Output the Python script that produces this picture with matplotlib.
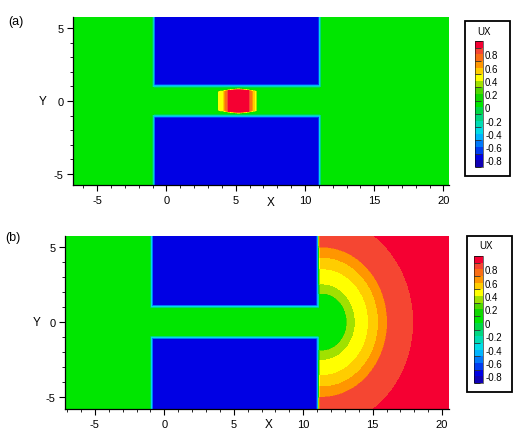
import numpy as np
import matplotlib.pyplot as plt
from matplotlib.colors import ListedColormap, BoundaryNorm
from matplotlib.patches import Rectangle
from matplotlib.ticker import MultipleLocator, FixedLocator

plt.rcParams['font.family'] = ['Liberation Sans', 'DejaVu Sans']
plt.rcParams['axes.unicode_minus'] = False

W, H = 517, 439

# contour levels / colour bands (Tecplot style)
levels = np.round(np.arange(-0.9, 1.001, 0.1), 2)
band_colors = ['#1000b4', '#0000e4', '#003cf0', '#0078fa', '#00b4ff', '#00dce6',
               '#00dcb4', '#00d782', '#00d746', '#00e600', '#10d800', '#50d800',
               '#a0e100', '#ffff00', '#ffcd00', '#ff9600', '#fa6e14', '#f54632',
               '#f50032']
cbar_ticks = [-0.8, -0.6, -0.4, -0.2, 0.0, 0.2, 0.4, 0.6, 0.8]
cbar_labels = ['-0.8', '-0.6', '-0.4', '-0.2', '0', '0.2', '0.4', '0.6', '0.8']

# geometry of the two blocks (walls) and the gap between them
wall_x = [-0.95, 11.1]
gap_half = 1.0
wall_val = -0.75
fluid_val = 0.05
edge_w = 0.25

# (a) jet inside the gap
blob_x = [3.7, 3.78, 4.1, 4.5, 5.9, 6.3, 6.45, 6.52]
blob_v = [0.05, 0.42, 0.5, 0.92, 0.92, 0.55, 0.45, 0.05]
blob_hx = [3.7, 5.2, 6.5]
blob_h = [0.7, 0.86, 0.72]

# (b) semicircular plume leaving the gap
ring_center = (11.35, 0.0)
ring_ky = 0.94
ring_r = [1.8, 2.4, 3.35, 4.07, 4.72, 6.6]
ring_val = [0.05, 0.35, 0.45, 0.55, 0.65, 0.85, 0.95]

xlim_a, ylim_a = (-6.75, 20.4), (-5.75, 5.75)
xlim_b, ylim_b = (-7.15, 20.5), (-5.8, 5.75)

cmap = ListedColormap(band_colors)

x = np.linspace(-7.5, 21, 1100)
y = np.linspace(-6.2, 6.2, 480)
X, Y = np.meshgrid(x, y)


def wall_weight(X, Y):
    dx = np.maximum(wall_x[0] - X, X - wall_x[1])
    dy = gap_half - np.abs(Y)
    outside = np.hypot(np.maximum(dx, 0), np.maximum(dy, 0))
    inside = np.minimum(np.maximum(dx, dy), 0)
    d = outside + inside
    return np.clip(0.5 - d / edge_w, 0, 1)


def field_a(X, Y):
    prof = np.interp(X, blob_x, blob_v, left=fluid_val, right=fluid_val)
    h = np.interp(X, blob_hx, blob_h)
    g = np.clip((h - np.abs(Y)) / 0.1, 0, 1)
    bg = fluid_val + (prof - fluid_val) * g
    w = wall_weight(X, Y)
    return bg * (1 - w) + wall_val * w


def field_b(X, Y):
    r = np.hypot(X - ring_center[0], ring_ky * (Y - ring_center[1]))
    kr, kv = [0.0], [ring_val[0]]
    for i, rr in enumerate(ring_r):
        kr += [rr - 0.03, rr + 0.03]
        kv += [ring_val[i], ring_val[i + 1]]
    kr.append(40.0)
    kv.append(ring_val[-1])
    rad = np.interp(r, kr, kv)
    bg = np.where(X > wall_x[1], rad, fluid_val)
    w = wall_weight(X, Y)
    return bg * (1 - w) + wall_val * w


def fig_rect(x0, y0, x1, y1):
    return [x0 / W, 1 - y1 / H, (x1 - x0) / W, (y1 - y0) / H]


fig = plt.figure(figsize=(W / 100, H / 100), dpi=100)

panels = [
    dict(Z=field_a(X, Y), rect=(73, 18, 449, 186), xlim=xlim_a, ylim=ylim_a,
         tag='(a)', tag_xy=(8, 22), ylab_x=43, xlab_y=203,
         frame=(465, 22, 510, 177), bar=(475, 42, 483, 168), ux=(484, 32)),
    dict(Z=field_b(X, Y), rect=(65, 237, 449, 410), xlim=xlim_b, ylim=ylim_b,
         tag='(b)', tag_xy=(5, 238), ylab_x=37, xlab_y=425,
         frame=(467, 237, 512, 393), bar=(474, 257, 483, 384), ux=(486, 246)),
]

for p in panels:
    norm = BoundaryNorm(levels, cmap.N)
    ax = fig.add_axes(fig_rect(*p['rect']))
    cs = ax.contourf(X, Y, p['Z'], levels=levels, cmap=cmap, norm=norm)
    ax.set_xlim(*p['xlim'])
    ax.set_ylim(*p['ylim'])
    ax.set_xticks([-5, 0, 5, 10, 15, 20])
    ax.set_yticks([-5, 0, 5])
    ax.xaxis.set_minor_locator(MultipleLocator(1))
    ax.yaxis.set_minor_locator(MultipleLocator(1))
    ax.tick_params(which='major', direction='out', length=4, width=0.8,
                   labelsize=8, pad=3)
    ax.tick_params(which='minor', direction='out', length=2.5, width=0.6)
    for s in ['top', 'right']:
        ax.spines[s].set_visible(False)
    for s in ['left', 'bottom']:
        ax.spines[s].set_linewidth(0.9)

    # axis titles placed Tecplot style, inline with the tick labels
    x0, y0, x1, y1 = p['rect']
    ymid = y0 + (y1 - y0) * (p['ylim'][1] - 0) / (p['ylim'][1] - p['ylim'][0])
    fig.text(p['ylab_x'] / W, 1 - ymid / H, 'Y', fontsize=8.5,
             ha='center', va='center')
    xpos = x0 + (x1 - x0) * (7.5 - p['xlim'][0]) / (p['xlim'][1] - p['xlim'][0])
    fig.text(xpos / W, 1 - p['xlab_y'] / H, 'X', fontsize=8.5,
             ha='center', va='center')
    fig.text(p['tag_xy'][0] / W, 1 - p['tag_xy'][1] / H, p['tag'], fontsize=9,
             ha='left', va='center')

    # legend box with colour bar
    fx0, fy0, fx1, fy1 = p['frame']
    fig.add_artist(Rectangle((fx0 / W, 1 - fy1 / H), (fx1 - fx0) / W,
                             (fy1 - fy0) / H, transform=fig.transFigure,
                             fill=False, edgecolor='black', linewidth=1.3))
    cax = fig.add_axes(fig_rect(*p['bar']))
    cb = fig.colorbar(cs, cax=cax)
    cb.outline.set_linewidth(0.4)
    cax.yaxis.set_minor_locator(FixedLocator(levels))
    cb.set_ticks(cbar_ticks, labels=cbar_labels, fontsize=7)
    cax.tick_params(which='major', right=True, length=0, pad=1.5)
    cax.tick_params(which='minor', left=True, right=False, direction='in',
                    length=4, width=0.6, color='#303030')
    fig.text(p['ux'][0] / W, 1 - p['ux'][1] / H, 'UX', fontsize=7,
             ha='center', va='center')

fig.savefig('out.png', dpi=100)
